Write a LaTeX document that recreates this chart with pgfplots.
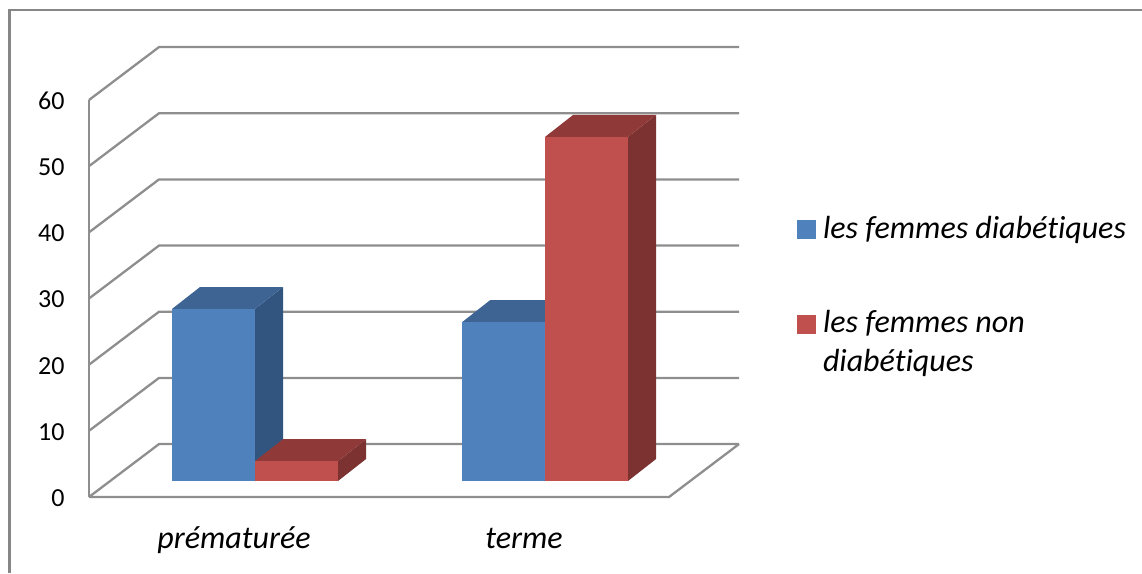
\documentclass[border=0pt]{standalone}
\usepackage{fontspec}
\setmainfont{Carlito}[Ligatures=NoCommon]
\usepackage{pgfplots}
\pgfplotsset{compat=1.18}
\definecolor{gridgray}{HTML}{8E8E8E}
\definecolor{framegray}{HTML}{868686}
\definecolor{bluefront}{HTML}{4F81BD}
\definecolor{blueside}{HTML}{325580}
\definecolor{bluetop}{HTML}{3E6494}
\definecolor{redfront}{HTML}{C0504D}
\definecolor{redside}{HTML}{7B3230}
\definecolor{redtop}{HTML}{8F3A39}
\pgfplotsset{
  wall/.style={draw=gridgray,line width=2.3pt,forget plot,line join=miter},
  face/.style={draw=none,xshift=21pt,yshift=16pt,forget plot},
  front/.style={ybar,bar width=83pt,bar shift=#1,draw=none,xshift=21pt,yshift=16pt,forget plot},
}
\begin{document}
\begin{tikzpicture}[x=1pt,y=1pt]
\path[use as bounding box] (0,0) rectangle (1142,-573);
\draw[framegray,line width=2.3pt] (9.5,-573) -- (9.5,-10) -- (1142,-10);
\begin{axis}[
  at={(89pt,-497pt)},anchor=south west,
  scale only axis,width=580pt,height=397pt,
  xmin=0,xmax=2,ymin=0,ymax=60,clip=false,
  axis line style={draw=none},major tick length=0pt,
  xtick={0.5,1.5},xticklabels={prématurée,terme},
  ytick={0,10,20,30,40,50,60},
  /pgf/number format/assume math mode=true,
  yticklabel style={font=\fontsize{26}{30}\selectfont,anchor=east,xshift=-21pt,yshift=-1pt},
  xticklabel style={font=\fontsize{32}{38}\selectfont\itshape,anchor=base,yshift=-51pt},
  legend style={at={(axis cs:2.44,42.45)},anchor=north west,draw=none,fill=none,
    inner sep=0pt,outer sep=0pt,
    font=\fontsize{32}{39}\selectfont\itshape,row sep=72pt,
    nodes={anchor=north west,inner sep=0pt,text depth=0pt}},
  legend cell align=left,
]
% back walls
\addplot[wall] coordinates {(0,0) (0,60)};
\addplot[wall] coordinates {(0,0) (2,0) (2.2414,8)};
\addplot[wall] coordinates {(0,0) (0.2414,8) (2.2414,8)};
\addplot[wall] coordinates {(0,10) (0.2414,18) (2.2414,18)};
\addplot[wall] coordinates {(0,20) (0.2414,28) (2.2414,28)};
\addplot[wall] coordinates {(0,30) (0.2414,38) (2.2414,38)};
\addplot[wall] coordinates {(0,40) (0.2414,48) (2.2414,48)};
\addplot[wall] coordinates {(0,50) (0.2414,58) (2.2414,58)};
\addplot[wall] coordinates {(0,60) (0.2414,68) (2.2414,68)};
% prematuree
\addplot[face,fill=blueside] coordinates {(0.5,0) (0.5966,3.32) (0.5966,29.32) (0.5,26)} --cycle;
\addplot[face,fill=bluetop] coordinates {(0.2138,26) (0.5,26) (0.5966,29.32) (0.3104,29.32)} --cycle;
\addplot[front=-41.5pt,fill=bluefront] coordinates {(0.5,26)};
\addplot[face,fill=redside] coordinates {(0.7862,0) (0.8828,3.32) (0.8828,6.32) (0.7862,3)} --cycle;
\addplot[face,fill=redtop] coordinates {(0.5,3) (0.7862,3) (0.8828,6.32) (0.5966,6.32)} --cycle;
\addplot[front=41.5pt,fill=redfront] coordinates {(0.5,3)};
% terme
\addplot[face,fill=blueside] coordinates {(1.5,0) (1.5966,3.32) (1.5966,27.32) (1.5,24)} --cycle;
\addplot[face,fill=bluetop] coordinates {(1.2138,24) (1.5,24) (1.5966,27.32) (1.3104,27.32)} --cycle;
\addplot[front=-41.5pt,fill=bluefront] coordinates {(1.5,24)};
\addplot[face,fill=redside] coordinates {(1.7862,0) (1.8828,3.32) (1.8828,55.32) (1.7862,52)} --cycle;
\addplot[face,fill=redtop] coordinates {(1.5,52) (1.7862,52) (1.8828,55.32) (1.5966,55.32)} --cycle;
\addplot[front=41.5pt,fill=redfront] coordinates {(1.5,52)};
% legend
\addlegendimage{legend image code/.code={\fill[bluefront] (0,-22pt) rectangle (18pt,-4pt);\path (26pt,0);}}
\addlegendentry{les femmes diabétiques}
\addlegendimage{legend image code/.code={\fill[redfront] (0,-22pt) rectangle (18pt,-4pt);\path (26pt,0);}}
\addlegendentry{\parbox[t]{310pt}{les femmes non\\diabétiques}}
\end{axis}
\end{tikzpicture}
\end{document}
